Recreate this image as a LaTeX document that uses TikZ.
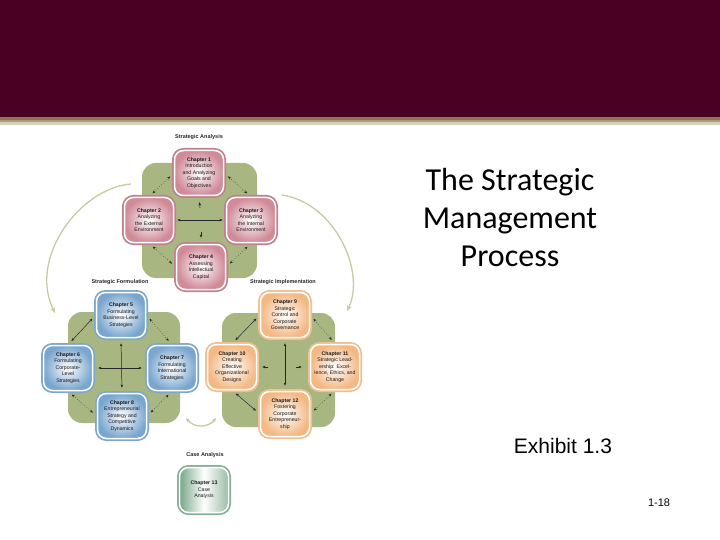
\documentclass[tikz,border=0pt]{standalone}
\usepackage{fontspec}
\setmainfont{Liberation Sans}
\newfontfamily\titlefont{Carlito}
\usetikzlibrary{arrows.meta,calc}
\definecolor{maroonc}{HTML}{4A0022}
\definecolor{stripeA}{HTML}{8C7455}
\definecolor{stripeB}{HTML}{A8997A}
\definecolor{stripeC}{HTML}{D6D2B7}
\definecolor{greenbg}{HTML}{A8B781}
\definecolor{pinkc}{HTML}{D08A98}
\definecolor{pinkd}{HTML}{C27F8D}
\definecolor{bluec}{HTML}{79A6CE}
\definecolor{blued}{HTML}{7FA7CB}
\definecolor{orangec}{HTML}{F3B883}
\definecolor{oranged}{HTML}{F2BE90}
\definecolor{caseg}{HTML}{78A68A}
\definecolor{cased}{HTML}{86B096}
\definecolor{arcc}{HTML}{C9C9A3}
\tikzset{
  box/.style={draw=white, line width=1.5, rounded corners=9,
    minimum width=49, minimum height=45, inner sep=1, align=center,
    font=\fontsize{5.2}{6.5}\selectfont, text=black!90},
  pinkbox/.style={box, inner color=white, outer color=pinkc, preaction={draw=pinkd, line width=5}},
  bluebox/.style={box, inner color=white, outer color=bluec, preaction={draw=blued, line width=5}},
  orangebox/.style={box, inner color=white, outer color=orangec, preaction={draw=oranged, line width=5}},
  casebox/.style={box, left color=caseg, right color=caseg!75, middle color=white, preaction={draw=cased, line width=5}},
  greenpanel/.style={fill=greenbg, rounded corners=14},
  seclabel/.style={font=\bfseries\fontsize{5.5}{6}\selectfont, text=black!85},
  arr/.style={{Stealth[length=3.2pt,width=2.6pt]}-{Stealth[length=3.2pt,width=2.6pt]}, line width=0.5, black!85, shorten >=5, shorten <=5},
  darr/.style={arr, dotted},
  tip/.style={-{Stealth[length=3.2pt,width=2.6pt]}, line width=0.5, black!85},
  bigarc/.style={arcc, line width=1.3, -{Stealth[length=6pt,width=5pt]}},
}
\begin{document}
\begin{tikzpicture}[x=1pt,y=-1pt]
\useasboundingbox (0,0) rectangle (720,540);
% header
\fill[maroonc] (0,0) rectangle (720,117);
\fill[stripeA] (0,117) rectangle (720,120);
\fill[stripeB] (0,120) rectangle (720,122.5);
\fill[stripeC] (0,122.5) rectangle (720,125);

% green panels
\fill[greenpanel] (142,163) rectangle (257,278);
\fill[greenpanel] (68,312) rectangle (180,423);
\fill[greenpanel] (222,313) rectangle (335,427);

% section labels
\node[seclabel] (lsa) at (199,137) {Strategic Analysis};
\node[seclabel] (lsf) at (120,282) {Strategic Formulation};
\node[seclabel] (lsi) at (283,282) {Strategic Implementation};
\node[seclabel] (lca) at (205,455) {Case Analysis};

% analysis boxes
\node[pinkbox] (c1) at (199,173) {\textbf{Chapter 1}\\Introduction\\and Analyzing\\Goals and\\Objectives};
\node[pinkbox] (c2) at (149,220) {\textbf{Chapter 2}\\Analyzing\\the External\\Environment};
\node[pinkbox] (c3) at (251,220) {\textbf{Chapter 3}\\Analyzing\\the Internal\\Environment};
\node[pinkbox] (c4) at (201,267) {\textbf{Chapter 4}\\Assessing\\Intellectual\\Capital};

% formulation boxes
\node[bluebox] (c5) at (121,315) {\textbf{Chapter 5}\\Formulating\\Business-Level\\Strategies};
\node[bluebox] (c6) at (68,368) {\textbf{Chapter 6}\\Formulating\\Corporate-\\Level\\Strategies};
\node[bluebox] (c7) at (172,368) {\textbf{Chapter 7}\\Formulating\\International\\Strategies};
\node[bluebox] (c8) at (122,416) {\textbf{Chapter 8}\\Entrepreneurial\\Strategy and\\Competitive\\Dynamics};

% implementation boxes
\node[orangebox] (c9) at (285,315) {\textbf{Chapter 9}\\Strategic\\Control and\\Corporate\\Governance};
\node[orangebox] (c10) at (232,367) {\textbf{Chapter 10}\\Creating\\Effective\\Organizational\\Designs};
\node[orangebox] (c11) at (335,367) {\textbf{Chapter 11}\\Strategic Lead-\\ership: Excel-\\lence, Ethics, and\\Change};
\node[orangebox] (c12) at (285,414) {\textbf{Chapter 12}\\Fostering\\Corporate\\Entrepreneur-\\ship};

% case box
\node[casebox] (c13) at (204,490) {\textbf{Chapter 13}\\Case\\Analysis};

% analysis arrows
\draw[darr] (c2.north) -- (c1.west);
\draw[darr] (c1.east) -- (c3.north);
\draw[darr] (c2.south) -- (c4.west);
\draw[darr] (c3.south) -- (c4.east);
\draw[arr, shorten >=3, shorten <=3] (c2.east) -- (c3.west);
\coordinate (au) at (200,208);
\coordinate (ad) at (201,232);
\draw[tip, shorten >=6] (au) -- (c1.south);
\draw[tip, shorten >=6] (ad) -- (c4.north);

% formulation arrows
\draw[arr] (c6.north) -- (c5.west);
\draw[darr] (c5.east) -- (c7.north);
\draw[darr] (c6.south) -- (c8.west);
\draw[darr] (c7.south) -- (c8.east);
\draw[arr] (c6.east) -- (c7.west);
\draw[arr] (c5.south) -- (c8.north);

% implementation arrows
\draw[arr] (c10.north) -- (c9.west);
\draw[darr] (c9.east) -- (c11.north);
\draw[arr] (c10.south) -- (c12.west);
\draw[darr] (c11.south) -- (c12.east);
\draw[arr] (c9.south) -- (c12.north);
\coordinate (il) at (268,367);
\coordinate (ir) at (296,367);
\draw[tip, shorten >=5] (il) -- (c10.east);
\draw[tip, shorten >=8] (ir) -- (c11.west);

% curved arrows
\coordinate (la1) at (131,184);
\coordinate (la2) at (55,313);
\draw[bigarc] (la1) .. controls (80,188) and (28,258) .. (la2);
\coordinate (ra1) at (282,195);
\coordinate (ra2) at (347,311);
\draw[bigarc] (ra1) .. controls (335,203) and (366,272) .. (ra2);
\coordinate (ba1) at (186,418);
\coordinate (ba2) at (216,418);
\draw[arcc, line width=1.3, {Stealth[length=4.5pt,width=4pt]}-{Stealth[length=4.5pt,width=4pt]}] (ba1) .. controls (194,428) and (208,428) .. (ba2);

% title texts
\node[font=\titlefont\fontsize{32}{38}\selectfont, align=center] (title) at (510,218) {The Strategic\\Management\\Process};
\node[font=\fontsize{21}{25}\selectfont] (exh) at (563,446) {Exhibit 1.3};
\node[font=\fontsize{11}{13}\selectfont] (pg) at (659,503) {1-18};
\end{tikzpicture}
\end{document}
